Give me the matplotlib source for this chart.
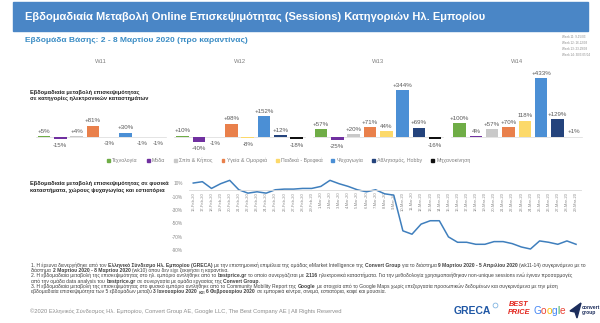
import matplotlib.pyplot as plt
import numpy as np
import pandas as pd
from matplotlib.patches import Rectangle, Polygon, Patch

plt.rcParams['font.family'] = ['Liberation Sans', 'DejaVu Sans']

W, H = 600, 323

# ---- data ----
weeks = ['W11', 'W12', 'W13', 'W14']
categories = ['Τεχνολογία', 'Μόδα', 'Σπίτι & Κήπος', 'Υγεία & Ομορφιά',
              'Παιδικά - Βρεφικά', 'Ψυχαγωγία', 'Αθλητισμός, Hobby', 'Μηχανοκίνηση']
cat_colors = ['#6fad46', '#7030a0', '#c9c9c9', '#e9804b',
              '#fcd96a', '#4b8fd5', '#24437c', '#111111']
w11 = [5, -15, 4, 81, -3, 30, -1, -1]
w12 = [10, -40, -1, 98, -8, 152, 12, -18]
w13 = [57, -25, 20, 71, 44, 344, 69, -16]
w14 = [100, 4, 57, 70, 118, 433, 129, 1]
no_plus = [(2, 4), (3, 1), (3, 4)]  # labels printed without '+'

dates = pd.date_range('2020-02-16', '2020-03-29')
mobility = [10, 12, 2, 9, 14, 0, -5, -3, -5, 0, 1, 1, 2, 2,
            5, 14, 9, 5, 0, -3, 0, -6, -8, -61, -66, -51, -46, -46,
            -70, -78, -78, -81, -81, -77, -77, -80, -85, -88, -76, -78, -81, -76, -81]
yticks = [10, -10, -30, -50, -70, -90]

week_notes = ['Week 11: 9-15/03', 'Week 12: 16-22/03', 'Week 13: 23-29/03', 'Week 14: 30/3-05/04']

notes = [
    '1. Η έρευνα διενεργήθηκε από τον **Ελληνικό Σύνδεσμο Ηλ. Εμπορίου (GRECA)** με την επιστημονική επιμέλεια της ομάδας eMarket Intelligence της **Convert Group** για το διάστημα **9 Μαρτίου 2020 - 5 Απριλίου 2020** (wk11-14) συγκρινόμενο με το',
    'διάστημα **2 Μαρτίου 2020 - 8 Μαρτίου 2020** (wk10) όπου δεν είχε ξεκινήσει η καραντίνα.',
    '2. Η εβδομαδιαία μεταβολή της επισκεψιμότητας στο ηλ. εμπόριο αντλήθηκε από το **bestprice.gr** το οποίο συνεργάζεται με **2.116** ηλεκτρονικά καταστήματα. Για την μεθοδολογία χρησιμοποιήθηκαν non-unique sessions ενώ έγιναν προσαρμογές',
    'από την ομάδα data analysis του **bestprice.gr** σε συνεργασία με ομάδα εργασίας της **Convert Group**.',
    '3. Η εβδομαδιαία μεταβολή της επισκεψιμότητας στο φυσικό εμπόριο αντλήθηκε από το Community Mobility Report της **Google** με στοιχεία από το Google Maps χωρίς επεξεργασία προσωπικών δεδομένων και συγκρινόμενα με την μέση',
    'εβδομαδιαία επισκεψιμότητα των 5 εβδομάδων μεταξύ **3 Ιανουαρίου 2020** και **6 Φεβρουαρίου 2020** σε εμπορικά κέντρα, σινεμά, εστιατόρια, καφέ και μουσεία.',
]

fig = plt.figure(figsize=(6, 3.23), dpi=100)
ov = fig.add_axes([0, 0, 1, 1])
ov.set_xlim(0, W)
ov.set_ylim(H, 0)
ov.axis('off')
rend = fig.canvas.get_renderer()


def fit(t, width):
    for _ in range(3):
        w = t.get_window_extent(rend).width
        t.set_fontsize(t.get_fontsize() * width / w)
    return t


def rich(x, y, line, size, color='#404040'):
    arts = []
    trail = False
    for k, part in enumerate(line.split('**')):
        if not part.strip():
            trail = trail or part != ''
            continue
        gap = size * 0.28 if (trail or part[0] == ' ') else 0
        trail = part[-1] == ' '
        kw = dict(fontsize=size, color=color, va='bottom',
                  weight='bold' if k % 2 else 'normal')
        if not arts:
            arts.append(ov.text(x, y, part.strip(), **kw))
        else:
            arts.append(ov.annotate(part.strip(), xy=(1, 0), xycoords=arts[-1],
                                    xytext=(gap, 0), textcoords='offset points', **kw))
    return arts


# header
ov.add_patch(Rectangle((13, 2), 575, 29, color='#4a86c6', zorder=0))
fit(ov.text(25, 17, 'Εβδομαδιαία Μεταβολή Online Επισκεψιμότητας (Sessions) Κατηγοριών Ηλ. Εμπορίου',
            color='white', weight='bold', fontsize=8, va='center'), 458)
fit(ov.text(25, 41, 'Εβδομάδα Βάσης: 2 - 8 Μαρτίου 2020 (προ καραντίνας)',
            color='#3a8cc4', weight='bold', fontsize=5, va='center'), 224)
t = fit(ov.text(562, 54.5, week_notes[3], fontsize=3, color='#8a8a8a', va='center'), 28)
for i, s in enumerate(week_notes[:3]):
    ov.text(562, 37.5 + 5.7 * i, s, fontsize=t.get_fontsize(), color='#8a8a8a', va='center')

# ---- bar chart ----
ax = fig.add_axes([20 / W, 1 - 150 / H, 570 / W, 80 / H])
ax.set_xlim(-1.47, 33.5)
ax.set_ylim(-95.6, 492.6)
ax.axis('off')
step = 8.5
for g, vals in enumerate([w11, w12, w13, w14]):
    xs = g * step + np.arange(len(vals))
    ax.bar(xs, vals, width=0.77, color=cat_colors)
    for i, (x, v) in enumerate(zip(xs, vals)):
        s = f'{v}%' if v < 0 or (g, i) in no_plus else f'+{v}%'
        ax.annotate(s, (x, v), xytext=(0, 1.8 if v >= 0 else -2.5), textcoords='offset points',
                    ha='center', va='bottom' if v >= 0 else 'top', fontsize=4.4, color='#595959')
    ax.text(g * step + 3.5, 1.11, weeks[g], transform=ax.get_xaxis_transform(),
            ha='center', va='center', fontsize=4.2, color='#7f7f7f')
    ax.plot([xs[0] - 0.5, xs[-1] + 0.5], [0, 0], color='#d9d9d9', lw=0.5, zorder=0)

fit(ov.text(30, 95.5, 'Εβδομαδιαία μεταβολή επισκεψιμότητας\nσε κατηγορίες ηλεκτρονικών καταστημάτων',
            fontsize=4, weight='bold', color='#262626', va='center', linespacing=1.3), 117)

fig.legend(handles=[Patch(color=c, label=l) for c, l in zip(cat_colors, categories)],
           loc='center', bbox_to_anchor=(289 / W, 1 - 160.5 / H), ncol=8, frameon=False,
           fontsize=3.8, labelcolor='#7f7f7f', handlelength=0.55, handleheight=0.55,
           handletextpad=0.4, columnspacing=1.7)

# ---- line chart ----
ax2 = fig.add_axes([188.7 / W, 1 - 251.7 / H, 391.9 / W, 72.7 / H])
ax2.patch.set_alpha(0)
ax2.plot(np.arange(len(mobility)), mobility, color='#3f7fbd', lw=1.1)
ax2.set_xlim(-0.5, len(mobility) - 0.5)
ax2.set_ylim(-92, 16)
ax2.set_yticks(yticks)
ax2.set_yticklabels([f'{v}%' for v in yticks])
ax2.set_xticks(np.arange(len(dates)))
ax2.set_xticklabels([f'{d.day}-{d.strftime("%b")}-20' for d in dates])
for s in ['left', 'right', 'top']:
    ax2.spines[s].set_visible(False)
ax2.spines['bottom'].set_position(('data', 0))
ax2.spines['bottom'].set_color('#d9d9d9')
ax2.spines['bottom'].set_linewidth(0.6)
ax2.tick_params(axis='x', length=0, labelsize=3.0, labelcolor='#8a8a8a', pad=1.5, labelrotation=90)
ax2.tick_params(axis='y', length=0, labelsize=3.4, labelcolor='#8a8a8a', pad=4)

fit(ov.text(30, 187, 'Εβδομαδιαία μεταβολή επισκεψιμότητας σε φυσικά\nκαταστήματα, χώρους ψυχαγωγίας και εστιατόρια',
            fontsize=4, weight='bold', color='#262626', va='center', linespacing=1.3), 137)

# ---- footnotes ----
size = 3.0
for _ in range(4):
    probe = rich(31, 0, notes[0], size)
    fig.canvas.draw()
    right = probe[-1].get_window_extent(rend).x1
    for a in probe:
        a.remove()
    size *= (582 - 31) / (right - 31)
for i, line in enumerate(notes):
    rich(31, 267.5 + 5.4 * i, line, size)

fit(ov.text(30, 311, '©2020 Ελληνικός Σύνδεσμος Ηλ. Εμπορίου, Convert Group AE, Google LLC, The Best Company AE | All Rights Reserved',
            fontsize=4, color='#8c8c8c', va='center'), 310)

# logos
ov.text(472, 311, 'GRECA', fontsize=7.5, weight='bold', color='#1f57a5', ha='center', va='center')
ov.plot([495], [305], marker='o', ms=3.5, mfc='none', mec='#6aa7dc', mew=0.5)
ov.text(519, 304.5, 'BEST', fontsize=5.3, weight='bold', style='italic', color='#e2231a', ha='center', va='center')
ov.text(519, 312, 'PRICE', fontsize=5.3, weight='bold', style='italic', color='#e2231a', ha='center', va='center')
prev = ov.text(533, 311, 'G', fontsize=7.3, color='#4285f4', va='center')
for ch, c in zip('oogle', ['#ea4335', '#fbbc05', '#4285f4', '#34a853', '#ea4335']):
    prev = ov.annotate(ch, xy=(1, 0), xycoords=prev, fontsize=7.3, color=c, va='bottom')
ov.add_patch(Polygon([[570, 311], [581, 303], [577, 318], [575, 312]], color='#1c2d5c'))
ov.text(582, 310, 'convert\ngroup', fontsize=3.6, weight='bold', color='#1c2d5c', va='center', linespacing=0.9)

fig.savefig('out.png', dpi=100)
